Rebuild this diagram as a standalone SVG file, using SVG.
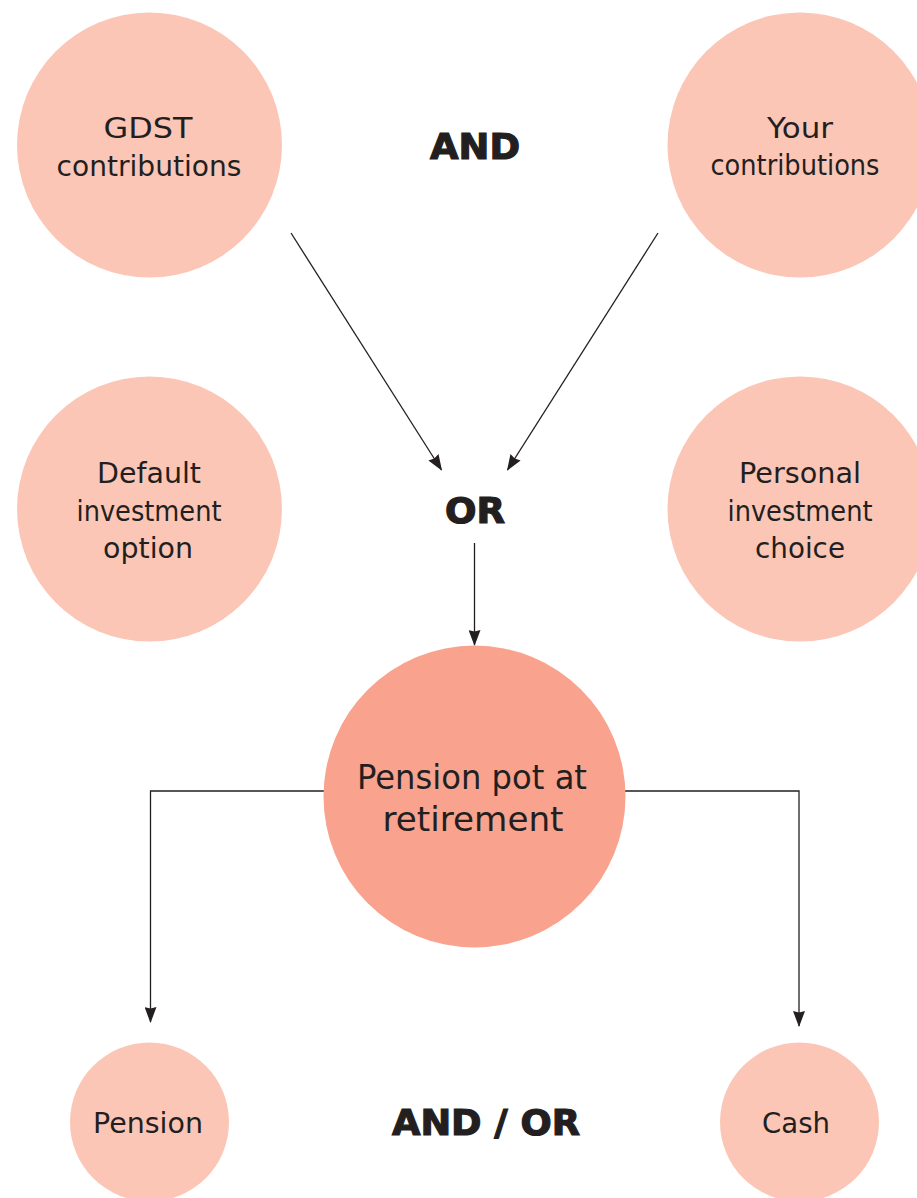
<svg xmlns="http://www.w3.org/2000/svg" width="917" height="1198" viewBox="0 0 917 1198">
<style>
.c{fill:#fbc6b6}
.m{fill:#f9a28e}
text{font-family:"DejaVu Sans",Verdana,sans-serif;fill:#231f20;text-anchor:middle}
.t{font-size:29px}
.p{font-size:34px}
.b{font-size:35px;font-weight:bold;stroke:#231f20;stroke-width:1.2px}
.l{fill:none;stroke:#231f20;stroke-width:1.3}
</style>
<defs><marker id="a" markerWidth="16" markerHeight="12" refX="15" refY="6" orient="auto" markerUnits="userSpaceOnUse" viewBox="0 0 16 12"><path d="M0 0L16 6L0 12L1.500 6Z" fill="#231f20"/></marker></defs>
<rect width="917" height="1198" fill="#fff"/>
<g id="connectors">
<path class="l" marker-end="url(#a)" d="M291 233L441.500 470"/>
<path class="l" marker-end="url(#a)" d="M658 233L507.500 470"/>
<path class="l" marker-end="url(#a)" d="M474.500 543V645"/>
<path class="l" marker-end="url(#a)" d="M324 791H150.500V1022"/>
<path class="l" marker-end="url(#a)" d="M625 791H799V1026"/>
</g>
<g id="gdst"><circle class="c" cx="149.500" cy="145" r="132.500"/><text class="t" x="148" y="138" textLength="89" lengthAdjust="spacingAndGlyphs">GDST</text><text class="t" x="149" y="176" textLength="185" lengthAdjust="spacingAndGlyphs">contributions</text></g>
<g id="your"><circle class="c" cx="800" cy="145" r="132.500"/><text class="t" x="800" y="138" textLength="66" lengthAdjust="spacingAndGlyphs">Your</text><text class="t" x="795" y="175" textLength="169" lengthAdjust="spacingAndGlyphs">contributions</text></g>
<g id="default"><circle class="c" cx="149.500" cy="509" r="132.500"/><text class="t" x="149" y="483" textLength="104" lengthAdjust="spacingAndGlyphs">Default</text><text class="t" x="149" y="521" textLength="145" lengthAdjust="spacingAndGlyphs">investment</text><text class="t" x="148" y="558" textLength="90" lengthAdjust="spacingAndGlyphs">option</text></g>
<g id="personal"><circle class="c" cx="800" cy="509" r="132.500"/><text class="t" x="800" y="483" textLength="122" lengthAdjust="spacingAndGlyphs">Personal</text><text class="t" x="800" y="521" textLength="145" lengthAdjust="spacingAndGlyphs">investment</text><text class="t" x="800" y="558" textLength="90" lengthAdjust="spacingAndGlyphs">choice</text></g>
<g id="pot"><circle class="m" cx="474.500" cy="796.500" r="151"/><text class="p" x="472" y="789" textLength="230" lengthAdjust="spacingAndGlyphs">Pension pot at</text><text class="p" x="473" y="831" textLength="181" lengthAdjust="spacingAndGlyphs">retirement</text></g>
<g id="pension"><circle class="c" cx="149.500" cy="1122" r="79.500"/><text class="t" x="148" y="1133" textLength="110" lengthAdjust="spacingAndGlyphs">Pension</text></g>
<g id="cash"><circle class="c" cx="799.500" cy="1122" r="79.500"/><text class="t" x="796" y="1133" textLength="68" lengthAdjust="spacingAndGlyphs">Cash</text></g>
<g id="and"><text class="b" x="475" y="159" textLength="90" lengthAdjust="spacingAndGlyphs">AND</text></g>
<g id="or"><text class="b" x="475" y="523" textLength="60" lengthAdjust="spacingAndGlyphs">OR</text></g>
<g id="andor"><text class="b" x="486" y="1135" textLength="188" lengthAdjust="spacingAndGlyphs">AND / OR</text></g>
</svg>
